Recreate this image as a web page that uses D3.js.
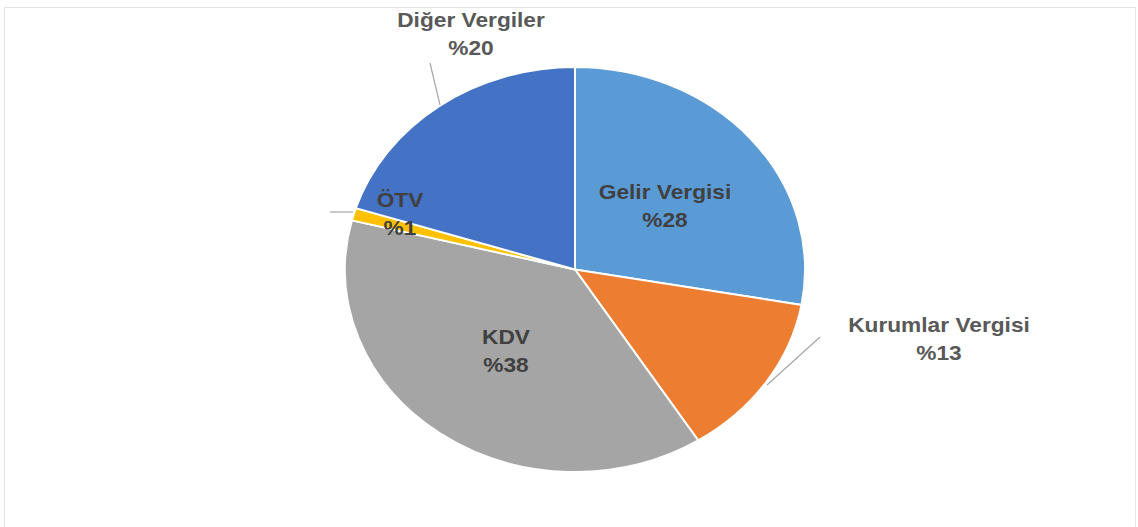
<!DOCTYPE html>
<html>
<head>
<meta charset="utf-8">
<script src="https://cdn.jsdelivr.net/npm/d3@7"></script>
<style>
  body { margin: 0; background: #fff; }
  text { font-family: "Liberation Sans", Arial, sans-serif; font-weight: bold; }
</style>
</head>
<body>
<div id="chart"></div>
<script>
// Vergi gelirleri dağılımı
var categories = ["Gelir Vergisi", "Kurumlar Vergisi", "KDV", "ÖTV", "Diğer Vergiler"];
var values = [27.8, 13.2, 37.9, 1.0, 20.1];
var percentLabels = ["%28", "%13", "%38", "%1", "%20"];
var colours = ["#5B9BD5", "#ED7D31", "#A5A5A5", "#FFC000", "#4472C4"];
var textColours = ["#404040", "#595959", "#404040", "#404040", "#595959"];

var width = 1138, height = 527;
var cx = 575, cy = 269.5;
var radius = 202.5;
var stretch = 1.136; // the whole picture is slightly wider than tall

// label positions (centre of the two lines)
var labelPos = [
    { x: 665, y: 206 },
    { x: 939, y: 339 },
    { x: 506, y: 351 },
    { x: 400, y: 214 },
    { x: 471, y: 34 }
];
// leader lines for outside labels
var leaders = [
    null,
    { x1: 820, y1: 337, x2: 767, y2: 385 },
    null,
    { x1: 330, y1: 212, x2: 353, y2: 212 },
    { x1: 430, y1: 63, x2: 440, y2: 105 }
];

var svg = d3.select("#chart").append("svg")
    .attr("width", width)
    .attr("height", height);

// faint frame
svg.append("rect")
    .attr("x", 4.5).attr("y", 7.5)
    .attr("width", 1131).attr("height", 530)
    .attr("fill", "none")
    .attr("stroke", "#e4e4e4");

var pie = d3.pie().sort(null).value(function (d) { return d; });
var arc = d3.arc().innerRadius(0).outerRadius(radius);

var g = svg.append("g")
    .attr("transform", "translate(" + cx + "," + cy + ") scale(" + stretch + ",1)");

g.selectAll("path")
    .data(pie(values))
    .enter()
    .append("path")
    .attr("d", arc)
    .attr("fill", function (d, i) { return colours[i]; })
    .attr("stroke", "#fff")
    .attr("stroke-width", 2)
    .attr("vector-effect", "non-scaling-stroke");

// leader lines
svg.selectAll("line.leader")
    .data(leaders.filter(function (d) { return d; }))
    .enter()
    .append("line")
    .attr("class", "leader")
    .attr("x1", function (d) { return d.x1; })
    .attr("y1", function (d) { return d.y1; })
    .attr("x2", function (d) { return d.x2; })
    .attr("y2", function (d) { return d.y2; })
    .attr("stroke", "#a6a6a6")
    .attr("stroke-width", 1.2);

var labels = svg.selectAll("g.label")
    .data(categories)
    .enter()
    .append("g")
    .attr("class", "label")
    .attr("transform", function (d, i) {
        return "translate(" + labelPos[i].x + "," + labelPos[i].y + ") scale(" + stretch + ",1)";
    });

labels.append("text")
    .attr("y", -14)
    .attr("text-anchor", "middle")
    .attr("dominant-baseline", "central")
    .attr("font-size", "20px")
    .attr("fill", function (d, i) { return textColours[i]; })
    .text(function (d) { return d; });

labels.append("text")
    .attr("y", 14)
    .attr("text-anchor", "middle")
    .attr("dominant-baseline", "central")
    .attr("font-size", "20px")
    .attr("fill", function (d, i) { return textColours[i]; })
    .text(function (d, i) { return percentLabels[i]; });
</script>
</body>
</html>
